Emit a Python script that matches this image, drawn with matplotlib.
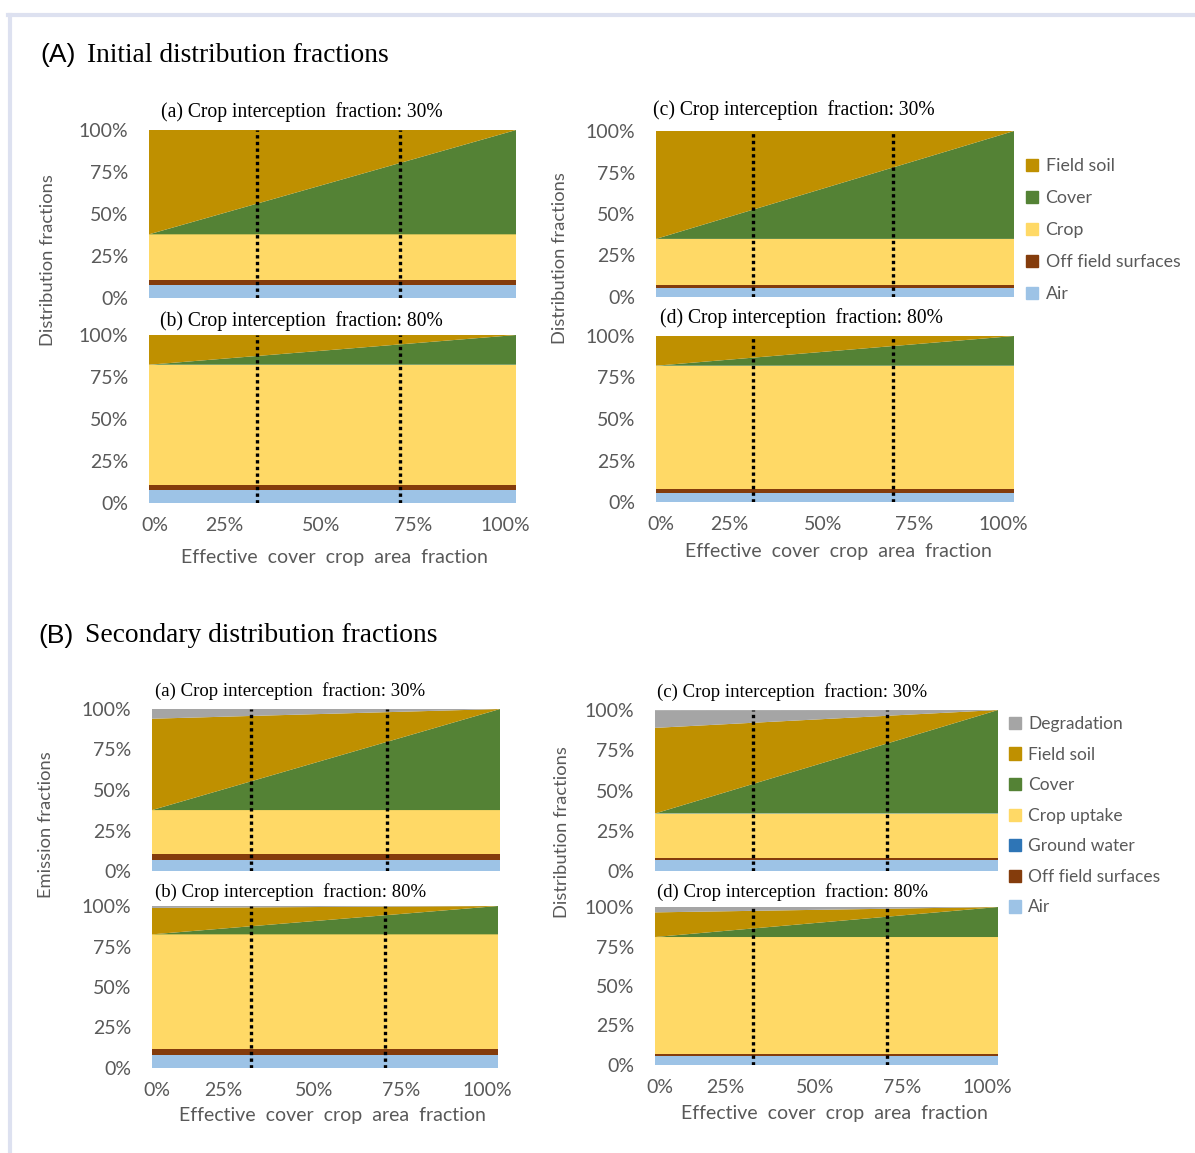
import matplotlib
matplotlib.use("Agg")
import matplotlib.pyplot as plt
from matplotlib.patches import Patch
from matplotlib.lines import Line2D

W, H = 1195, 1153

# x positions (effective cover crop area fraction, % of axis)
x_pts = [0, 100]

# --- (A) Initial distribution fractions (values at x=0 and x=100) ---
A_air = [[7.5, 7.5], [7.5, 7.5], [5.4, 5.4], [5.4, 5.4]]
A_off = [[3.4, 3.4], [3.4, 3.4], [2.0, 2.0], [2.6, 2.6]]
A_crop = [[27.0, 27.0], [71.4, 71.4], [27.6, 27.6], [74.1, 74.1]]
A_cover = [[0, 62.1], [0, 17.7], [0, 65.0], [0, 17.9]]
A_soil = [[62.1, 0], [17.7, 0], [65.0, 0], [17.9, 0]]

# --- (B) Secondary distribution fractions ---
B_air = [[6.6, 6.6], [7.8, 7.8], [6.6, 6.6], [5.7, 5.7]]
B_gw = [[0.1, 0.1], [0.1, 0.1], [0.1, 0.1], [0.1, 0.1]]
B_off = [[3.6, 3.6], [3.6, 3.6], [1.4, 1.4], [1.2, 1.2]]
B_crop = [[27.3, 27.3], [71.0, 71.0], [27.6, 27.6], [74.0, 74.0]]
B_cover = [[0, 62.4], [0, 17.5], [0, 64.3], [0, 19.0]]
B_soil = [[56.4, 0], [16.3, 0], [53.2, 0], [15.6, 0]]
B_degr = [[6.0, 0], [1.2, 0], [11.0, 0], [3.4, 0]]

# dotted reference lines (position on x axis)
vlines_A = [[29.5, 68.4], [29.5, 68.4], [27.0, 66.3], [27.0, 66.3]]
vlines_B = [[28.5, 67.4], [28.5, 67.4], [28.6, 67.5], [28.6, 67.5]]

xtick_labels = ["0%", "25%", "50%", "75%", "100%"]
xtick_pos = [1.5, 20.5, 46.8, 72.0, 97.0]
ytick_vals = [0, 25, 50, 75, 100]
ytick_labels = ["0%", "25%", "50%", "75%", "100%"]

titles = ["(a) Crop interception  fraction: 30%", "(b) Crop interception  fraction: 80%",
          "(c) Crop interception  fraction: 30%", "(d) Crop interception  fraction: 80%"]

c_air = "#9DC3E6"
c_gw = "#2E75B6"
c_off = "#843C0C"
c_crop = "#FFD966"
c_cover = "#548235"
c_soil = "#BF9000"
c_degr = "#A5A5A5"
gray = "#595959"
sans = "Lato"
serif = "Liberation Serif"

fig = plt.figure(figsize=(W / 100, H / 100), dpi=100)


def fx(x):
    return x / W


def fy(y):
    return 1 - y / H


def make_ax(l, t, r, b):
    ax = fig.add_axes([fx(l), fy(b), (r - l) / W, (b - t) / H])
    ax.set_xlim(0, 100)
    ax.set_ylim(0, 100)
    for s in ax.spines.values():
        s.set_visible(False)
    ax.set_yticks(ytick_vals)
    ax.set_yticklabels(ytick_labels, fontfamily=sans, fontsize=14, color=gray)
    ax.tick_params(axis="both", length=0)
    ax.tick_params(axis="y", pad=15)
    ax.tick_params(axis="x", pad=10)
    return ax


def finish_x(ax, show):
    if show:
        ax.set_xticks(xtick_pos)
        ax.set_xticklabels(xtick_labels, fontfamily=sans, fontsize=14, color=gray)
    else:
        ax.set_xticks([])


# axes boxes in pixels: left, top, right, bottom
boxes_A = [(149, 130, 516, 298), (149, 335, 516, 503), (656, 131, 1014, 297), (656, 336, 1014, 502)]
boxes_B = [(152, 709, 500, 871), (152, 906, 498, 1068), (655, 710, 998, 871), (655, 907, 998, 1065)]
title_pos_A = [(161, 112), (160, 321), (653, 110), (660, 318)]
title_pos_B = [(155, 691), (155, 892), (657, 692), (657, 892)]

for i, box in enumerate(boxes_A):
    ax = make_ax(*box)
    ax.stackplot(x_pts, A_air[i], A_off[i], A_crop[i], A_cover[i], A_soil[i],
                 colors=[c_air, c_off, c_crop, c_cover, c_soil], linewidth=0)
    for v in vlines_A[i]:
        ax.axvline(v, color="black", linestyle=(0, (1, 1)), linewidth=2.4)
    finish_x(ax, i in (1, 3))
    fig.text(fx(title_pos_A[i][0]), fy(title_pos_A[i][1]), titles[i], fontfamily=serif,
             fontsize=14.1, va="center", ha="left")

for i, box in enumerate(boxes_B):
    ax = make_ax(*box)
    ax.stackplot(x_pts, B_air[i], B_gw[i], B_off[i], B_crop[i], B_cover[i], B_soil[i], B_degr[i],
                 colors=[c_air, c_gw, c_off, c_crop, c_cover, c_soil, c_degr], linewidth=0)
    for v in vlines_B[i]:
        ax.axvline(v, color="black", linestyle=(0, (1, 1)), linewidth=2.4)
    finish_x(ax, i in (1, 3))
    fig.text(fx(title_pos_B[i][0]), fy(title_pos_B[i][1]), titles[i], fontfamily=serif,
             fontsize=13.5, va="center", ha="left")

# section headings
fig.text(fx(40), fy(55), "(A)", fontfamily="Liberation Sans", fontsize=19, va="center")
fig.text(fx(87), fy(55), "Initial distribution fractions", fontfamily=serif, fontsize=19.8, va="center")
fig.text(fx(38), fy(636), "(B)", fontfamily="Liberation Sans", fontsize=19, va="center")
fig.text(fx(85), fy(636), "Secondary distribution fractions", fontfamily=serif, fontsize=19.8, va="center")

# axis labels
xl = "Effective  cover  crop  area  fraction"
fig.text(fx(334), fy(557), xl, fontfamily=sans, fontsize=14, color=gray, ha="center", va="center")
fig.text(fx(838), fy(551), xl, fontfamily=sans, fontsize=14, color=gray, ha="center", va="center")
fig.text(fx(332), fy(1115), xl, fontfamily=sans, fontsize=14, color=gray, ha="center", va="center")
fig.text(fx(834), fy(1113), xl, fontfamily=sans, fontsize=14, color=gray, ha="center", va="center")
fig.text(fx(48), fy(260), "Distribution fractions", fontfamily=sans, fontsize=13.2, color=gray,
         rotation=90, ha="center", va="center")
fig.text(fx(560), fy(258), "Distribution fractions", fontfamily=sans, fontsize=13.2, color=gray,
         rotation=90, ha="center", va="center")
fig.text(fx(46), fy(825), "Emission fractions", fontfamily=sans, fontsize=13.2, color=gray,
         rotation=90, ha="center", va="center")
fig.text(fx(562), fy(832), "Distribution fractions", fontfamily=sans, fontsize=13.2, color=gray,
         rotation=90, ha="center", va="center")

# legends
legA = [("Field soil", c_soil), ("Cover", c_cover), ("Crop", c_crop),
        ("Off field surfaces", c_off), ("Air", c_air)]
legB = [("Degradation", c_degr), ("Field soil", c_soil), ("Cover", c_cover),
        ("Crop uptake", c_crop), ("Ground water", c_gw), ("Off field surfaces", c_off), ("Air", c_air)]

fig.legend(handles=[Patch(color=c, label=n) for n, c in legA], loc="upper left",
           bbox_to_anchor=(fx(1026), fy(158)), frameon=False, handlelength=0.7, handleheight=0.7,
           handletextpad=0.4, labelspacing=0.9, borderaxespad=0, borderpad=0,
           prop={"family": sans, "size": 12.8}, labelcolor=gray)
fig.legend(handles=[Patch(color=c, label=n) for n, c in legB], loc="upper left",
           bbox_to_anchor=(fx(1009), fy(716)), frameon=False, handlelength=0.7, handleheight=0.7,
           handletextpad=0.4, labelspacing=0.84, borderaxespad=0, borderpad=0,
           prop={"family": sans, "size": 12.5}, labelcolor=gray)

# light frame lines
fig.add_artist(Line2D([fx(8), 1], [fy(15), fy(15)], color="#DDE1F0", linewidth=3))
fig.add_artist(Line2D([fx(10), fx(10)], [fy(15), 0], color="#DDE1F0", linewidth=3))

fig.savefig("out.png", dpi=100)
